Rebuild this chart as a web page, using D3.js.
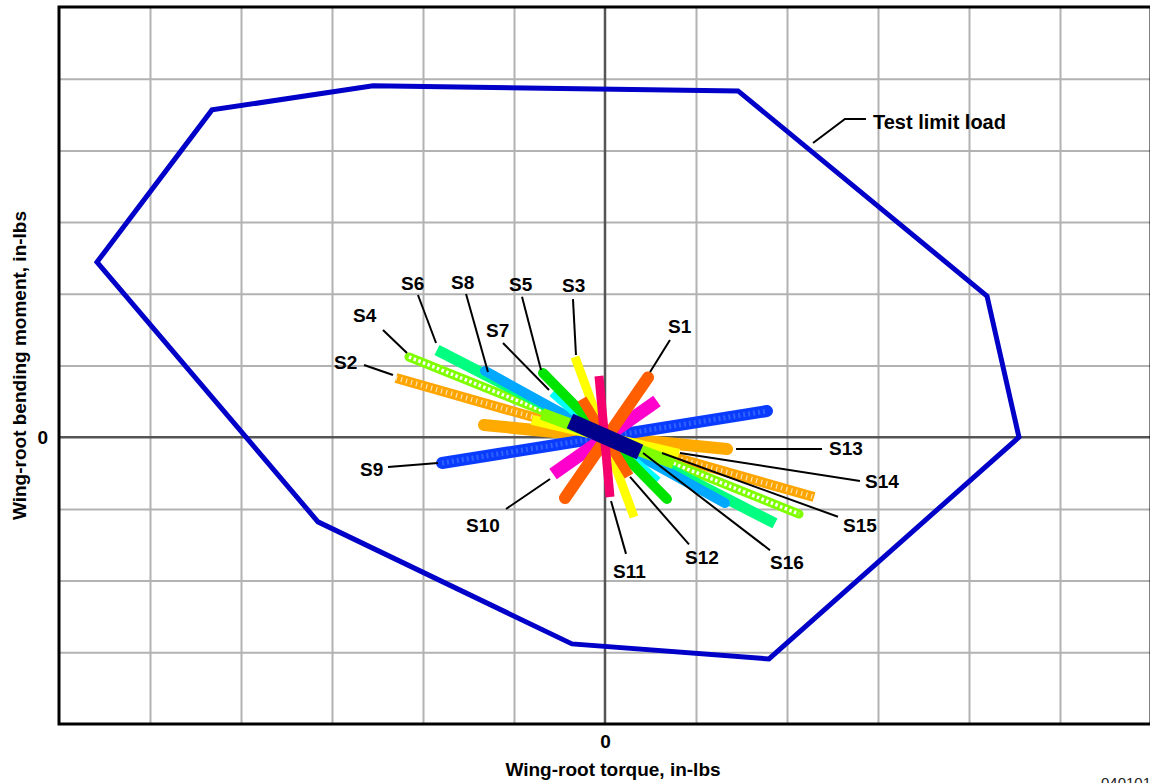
<!DOCTYPE html>
<html><head><meta charset="utf-8">
<script src="https://cdn.jsdelivr.net/npm/d3@7"></script>
<style>
body{margin:0;background:#fff;overflow:hidden}
svg{display:block}
text{font-family:"Liberation Sans",Arial,Helvetica,sans-serif}
</style>
</head><body>
<svg id="chart" width="1150" height="783"></svg>
<script>
// ---------- data (grid units) ----------
const xGridValues = [-5,-4,-3,-2,-1,1,2,3,4,5];
const yGridValues = [-3,-2,-1,1,2,3,4,5];
const xTickValues = [0];
const yTickValues = [0];
const xTickLabels = ["0"];
const yTickLabels = ["0"];

const limitLoadX = [-5.582,-4.319,-2.549,1.462,4.198,4.549,1.802,-0.363,-3.154];
const limitLoadY = [ 2.443, 4.565, 4.900,4.830,1.969,0.000,-3.093,-2.883,-1.181];

const seriesNames  = ["S1","S2","S3","S4","S5","S6","S7","S8","S9","S10","S11","S12","S13","S14","S15","S16"];
const seriesStartX = [ 0.473,-2.297,-0.330,-2.154,-0.681,-1.846,-0.571,-1.319,-1.791,-0.571, 0.055, 0.264, 1.341, 0.813, 0.758, 0.385];
const seriesStartY = [ 0.834, 0.826, 1.119, 1.119, 0.895, 1.216, 0.631, 0.924,-0.360,-0.513,-0.834,-0.541,-0.165,-0.234,-0.360,-0.206];
const seriesEndX   = [-0.440, 2.297, 0.319, 2.132, 0.681, 1.868, 0.571, 1.319, 1.780, 0.571,-0.066,-0.253,-1.330,-0.802,-0.692,-0.385];
const seriesEndY   = [-0.848,-0.834,-1.113,-1.071,-0.862,-1.203,-0.625,-0.918, 0.365, 0.505, 0.854, 0.533, 0.170, 0.240, 0.324, 0.226];

// label text anchor (left, baseline) and leader lines
const labelX       = [ 0.692,-2.978,-0.473,-2.769,-1.055,-2.242,-1.308,-1.692,-2.692,-1.527, 0.088, 0.879, 2.462, 2.857, 2.615, 1.813];
const labelY       = [ 1.453, 0.952, 2.025, 1.607, 2.039, 2.053, 1.397, 2.067,-0.541,-1.322,-1.964,-1.768,-0.248,-0.709,-1.322,-1.840];
const leaderFromX  = [ 0.714,-2.648,-0.352,-2.440,-0.912,-2.055,-1.121,-1.527,-2.385,-1.088, 0.231, 0.923, 1.440, 2.802, 2.560, 1.813];
const leaderFromY  = [ 1.356, 1.007, 1.926, 1.495, 1.959, 1.983, 1.314, 1.997,-0.415,-1.001,-1.627,-1.495,-0.165,-0.611,-1.110,-1.576];
const leaderToX    = [ 0.495,-2.330,-0.319,-2.176,-0.703,-1.857,-0.615,-1.286,-1.835,-0.604, 0.066, 0.275, 2.385, 0.824, 0.626, 0.418];
const leaderToY    = [ 0.910, 0.868, 1.146, 1.174, 0.938, 1.314, 0.658, 0.910,-0.359,-0.583,-0.889,-0.554,-0.165,-0.220,-0.220,-0.220];

const limitLabel = "Test limit load";
const limitLabelPos = [2.945, 4.297];
const limitLeaderX = [2.286, 2.637, 2.868];
const limitLeaderY = [4.103, 4.438, 4.438];

// ---------- styles ----------
const styles = {
  S1:{c:"#ff5f00",w:12,cap:"round"},
  S2:{c:"#ffa500",w:10,cap:"butt",pat:"rect"},
  S3:{c:"#ffff00",w:9,cap:"butt"},
  S4:{c:"#80ff00",w:9,cap:"round",pat:"ring"},
  S5:{c:"#00e400",w:10,cap:"round"},
  S6:{c:"#00ff80",w:11,cap:"butt"},
  S7:{c:"#00ffff",w:11,cap:"butt"},
  S8:{c:"#00a8ff",w:10,cap:"round"},
  S9:{c:"#0a3cff",w:12,cap:"round",pat:"dots"},
  S10:{c:"#ff00cc",w:13,cap:"butt"},
  S11:{c:"#f5006e",w:9,cap:"butt"},
  S12:{c:"#ff5f00",w:10,cap:"butt"},
  S13:{c:"#ffaa00",w:12,cap:"round"},
  S14:{c:"#ffff00",w:10,cap:"butt"},
  S15:{c:"#80ff00",w:12,cap:"butt"},
  S16:{c:"#00008c",w:16,cap:"butt"}
};
const drawOrder = ["S2","S4","S6","S8","S7","S5","S13","S9","S14","S15","S3","S12","S10","S1","S11","S16"];

// ---------- scales ----------
const L=59, R=1151, T=7, B=724;
const x = d3.scaleLinear().domain([-6,6]).range([L,R]);
const y = d3.scaleLinear().domain([-4,6]).range([B,T]);
const svg = d3.select("#chart");

// grid
svg.append("g").attr("transform",`translate(0,${B})`)
  .call(d3.axisBottom(x).tickValues(xGridValues).tickSize(-(B-T)).tickFormat(""))
  .call(g=>{g.select(".domain").remove();g.selectAll("line").attr("stroke","#b2b2b2").attr("stroke-width",2);});
svg.append("g").attr("transform",`translate(${L},0)`)
  .call(d3.axisLeft(y).tickValues(yGridValues).tickSize(-(R-L)).tickFormat(""))
  .call(g=>{g.select(".domain").remove();g.selectAll("line").attr("stroke","#b2b2b2").attr("stroke-width",2);});

// zero axes
svg.append("line").attr("x1",x(0)).attr("x2",x(0)).attr("y1",T).attr("y2",B).attr("stroke","#555").attr("stroke-width",2.5);
svg.append("line").attr("x1",L).attr("x2",R).attr("y1",y(0)).attr("y2",y(0)).attr("stroke","#555").attr("stroke-width",2.5);

// tick labels
svg.append("g").attr("transform",`translate(0,${B})`)
  .call(d3.axisBottom(x).tickValues(xTickValues).tickSize(0).tickPadding(10.5).tickFormat((d,i)=>xTickLabels[i]))
  .call(g=>{g.select(".domain").remove();g.selectAll("text").attr("font-size",19).attr("font-weight","bold").attr("fill","#000").attr("font-family",'"Liberation Sans",Arial,sans-serif');});
svg.append("g").attr("transform",`translate(${L},0)`)
  .call(d3.axisLeft(y).tickValues(yTickValues).tickSize(0).tickPadding(11).tickFormat((d,i)=>yTickLabels[i]))
  .call(g=>{g.select(".domain").remove();g.selectAll("text").attr("font-size",19).attr("font-weight","bold").attr("fill","#000").attr("font-family",'"Liberation Sans",Arial,sans-serif');});

// limit load polygon
const poly = limitLoadX.map((v,i)=>[x(v),y(limitLoadY[i])]);
svg.append("path").attr("d",d3.line()(poly)+"Z").attr("fill","none").attr("stroke","#0000c8").attr("stroke-width",5).attr("stroke-linejoin","miter");

// series
const gS = svg.append("g");
drawOrder.forEach(name=>{
  const i = seriesNames.indexOf(name);
  const s = styles[name];
  const x1=x(seriesStartX[i]), y1=y(seriesStartY[i]), x2=x(seriesEndX[i]), y2=y(seriesEndY[i]);
  gS.append("line").attr("x1",x1).attr("y1",y1).attr("x2",x2).attr("y2",y2)
    .attr("stroke",s.c).attr("stroke-width",s.w).attr("stroke-linecap",s.cap);
  if(s.pat==="rect"){
    gS.append("line").attr("x1",x1).attr("y1",y1).attr("x2",x2).attr("y2",y2)
      .attr("stroke","#fff").attr("stroke-width",5).attr("stroke-dasharray","1.2,4").attr("opacity",0.7);
  } else if(s.pat==="ring"){
    gS.append("line").attr("x1",x1).attr("y1",y1).attr("x2",x2).attr("y2",y2)
      .attr("stroke","#fff").attr("stroke-width",3.5).attr("stroke-dasharray","2.5,2.5");
  } else if(s.pat==="dots"){
    gS.append("line").attr("x1",x1).attr("y1",y1).attr("x2",x2).attr("y2",y2)
      .attr("stroke","#2f62ff").attr("stroke-width",5).attr("stroke-dasharray","2,3");
  }
});

// leaders and labels
const gL = svg.append("g");
seriesNames.forEach((n,i)=>{
  gL.append("line").attr("x1",x(leaderFromX[i])).attr("y1",y(leaderFromY[i]))
    .attr("x2",x(leaderToX[i])).attr("y2",y(leaderToY[i])).attr("stroke","#000").attr("stroke-width",2);
  gL.append("text").attr("x",x(labelX[i])).attr("y",y(labelY[i])).text(n)
    .attr("font-size",19).attr("font-weight","bold").attr("fill","#000");
});
svg.append("path").attr("d",d3.line()(limitLeaderX.map((v,i)=>[x(v),y(limitLeaderY[i])])))
  .attr("fill","none").attr("stroke","#000").attr("stroke-width",2);
svg.append("text").attr("x",x(limitLabelPos[0])).attr("y",y(limitLabelPos[1])).text(limitLabel)
  .attr("font-size",20).attr("font-weight","bold").attr("fill","#000");

// frame
svg.append("rect").attr("x",L).attr("y",T).attr("width",R-L).attr("height",B-T)
  .attr("fill","none").attr("stroke","#000").attr("stroke-width",3);

// axis titles
svg.append("text").attr("x",613).attr("y",776).attr("text-anchor","middle")
  .attr("font-size",19).attr("font-weight","bold").text("Wing-root torque, in-lbs");
svg.append("text").attr("transform",`translate(26,${(T+B)/2}) rotate(-90)`).attr("text-anchor","middle")
  .attr("font-size",19).attr("font-weight","bold").text("Wing-root bending moment, in-lbs");
svg.append("text").attr("x",1101).attr("y",788).attr("font-size",15).attr("fill","#222").text("040101");
</script>
</body></html>
